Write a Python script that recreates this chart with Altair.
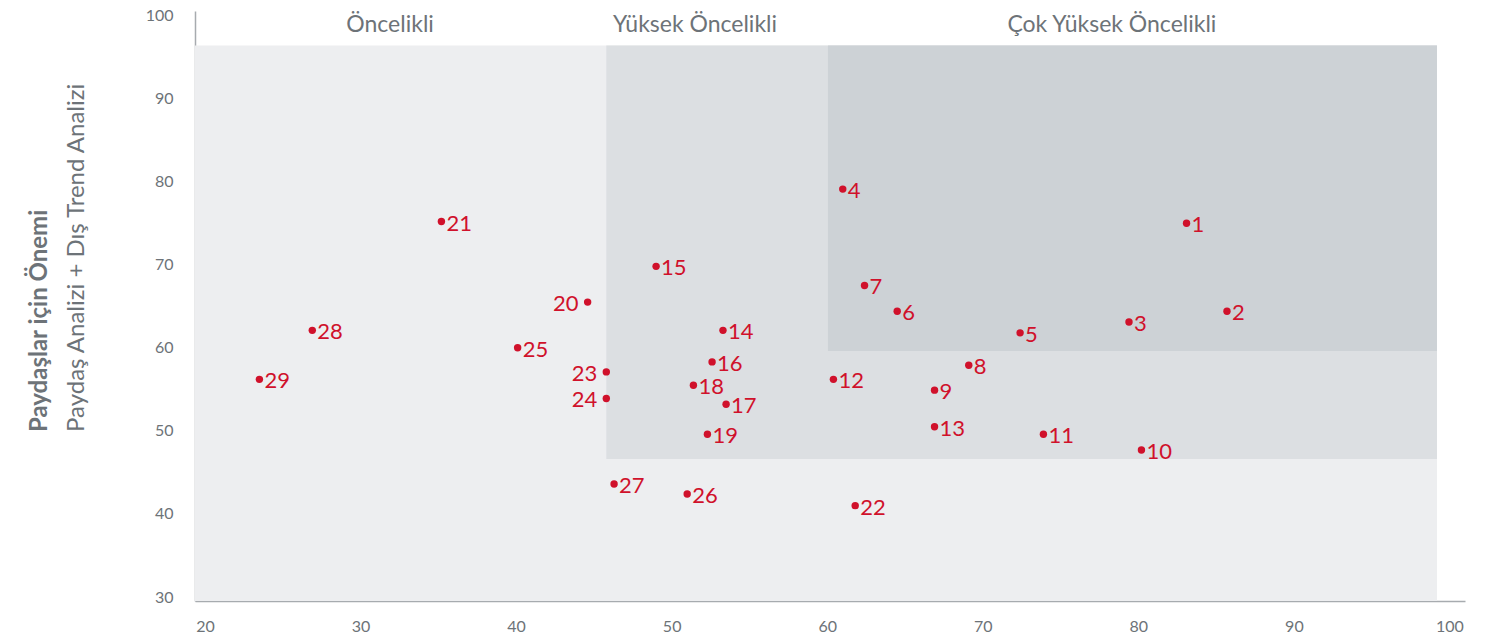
import altair as alt
import pandas as pd

# --- data -------------------------------------------------------------
ids = [str(i) for i in range(1, 30)]
xs = [83.1, 85.7, 79.4, 61.0, 72.4, 64.5, 62.4, 69.1, 66.9, 80.2,
      73.9, 60.4, 66.9, 53.3, 49.0, 52.6, 53.5, 51.4, 52.3, 44.6,
      35.2, 61.8, 45.8, 45.8, 40.1, 51.0, 46.3, 26.9, 23.5]
ys = [75.0, 64.4, 63.1, 79.1, 61.8, 64.4, 67.5, 57.9, 54.9, 47.7,
      49.6, 56.2, 50.5, 62.1, 69.8, 58.3, 53.2, 55.5, 49.6, 65.5,
      75.2, 41.0, 57.1, 53.9, 60.0, 42.4, 43.6, 62.1, 56.2]
label_side = ["right"] * 29
for k in ("20", "23", "24"):
    label_side[ids.index(k)] = "left"

zone_names = ["Öncelikli", "Yüksek Öncelikli", "Çok Yüksek Öncelikli"]
zone_x1 = [19.36, 45.8, 60.05]
zone_x2 = [99.2, 99.2, 99.2]
zone_y1 = [29.52, 46.6, 59.6]
zone_y2 = [96.4, 96.4, 96.4]
zone_colors = ["#edeef0", "#dcdfe2", "#cdd2d6"]
zone_label_x = [31.9, 51.5, 78.3]
zone_label_y = [98.8, 98.8, 98.8]

x_ticks = [20, 30, 40, 50, 60, 70, 80, 90, 100]
y_ticks = [30, 40, 50, 60, 70, 80, 90, 100]

y_title_bold = "Paydaşlar için Önemi"
y_title_regular = "Paydaş Analizi + Dış Trend Analizi"

RED = "#d0112b"
GREY = "#6d7378"
FONT = "Lato"

pts = pd.DataFrame({"id": ids, "x": xs, "y": ys, "side": label_side})
zones = pd.DataFrame({"name": zone_names, "x1": zone_x1, "x2": zone_x2,
                      "y1": zone_y1, "y2": zone_y2, "color": zone_colors,
                      "lx": zone_label_x, "ly": zone_label_y})

xscale = alt.Scale(domain=[19.36, 101.0], nice=False, zero=False)
yscale = alt.Scale(domain=[29.52, 100.54], nice=False, zero=False)

xaxis = alt.Axis(values=x_ticks, title=None, grid=False, ticks=False,
                 domainColor="#a7abaf", domainWidth=1.5, labelColor=GREY,
                 labelFont=FONT, labelFontSize=16, labelPadding=17)
yaxis = alt.Axis(values=y_ticks, title=None, grid=False, ticks=False,
                 domainColor="#a7abaf", domainWidth=1.5, labelColor=GREY,
                 labelFont=FONT, labelFontSize=16, labelPadding=22)

base_zone = alt.Chart(zones)
rects = base_zone.mark_rect().encode(
    x=alt.X("x1:Q", scale=xscale, axis=xaxis),
    x2="x2:Q",
    y=alt.Y("y1:Q", scale=yscale, axis=yaxis),
    y2="y2:Q",
    color=alt.Color("color:N", scale=None),
)
zone_text = base_zone.mark_text(font=FONT, fontSize=23, color=GREY,
                                baseline="middle", align="center").encode(
    x=alt.X("lx:Q", scale=xscale),
    y=alt.Y("ly:Q", scale=yscale),
    text="name:N",
)

base_pts = alt.Chart(pts)
dots = base_pts.mark_circle(size=55, color=RED, opacity=1).encode(
    x=alt.X("x:Q", scale=xscale),
    y=alt.Y("y:Q", scale=yscale),
)
lab_r = base_pts.transform_filter(alt.datum.side == "right").mark_text(
    font=FONT, fontSize=22, color=RED, align="left", baseline="middle", dx=5, dy=2
).encode(x=alt.X("x:Q", scale=xscale), y=alt.Y("y:Q", scale=yscale), text="id:N")
lab_l = base_pts.transform_filter(alt.datum.side == "left").mark_text(
    font=FONT, fontSize=22, color=RED, align="right", baseline="middle", dx=-9, dy=2
).encode(x=alt.X("x:Q", scale=xscale), y=alt.Y("y:Q", scale=yscale), text="id:N")

t_bold = alt.Chart(pd.DataFrame({"t": [y_title_bold]})).mark_text(
    font=FONT, fontSize=24, fontWeight="bold", color=GREY, angle=270,
    align="left", baseline="middle"
).encode(x=alt.value(-155), y=alt.value(421), text="t:N")
t_reg = alt.Chart(pd.DataFrame({"t": [y_title_regular]})).mark_text(
    font=FONT, fontSize=24, color=GREY, angle=270,
    align="left", baseline="middle"
).encode(x=alt.value(-118), y=alt.value(421), text="t:N")

chart = alt.layer(rects, zone_text, dots, lab_r, lab_l, t_bold, t_reg).properties(
    width=1270, height=590,
    autosize=alt.AutoSizeParams(type="none"),
    padding={"left": 187, "top": 3, "right": 20, "bottom": 33},
    background="white",
).configure_view(stroke=None)

chart.save("out.html", embed_options={"renderer": "svg", "actions": False})
